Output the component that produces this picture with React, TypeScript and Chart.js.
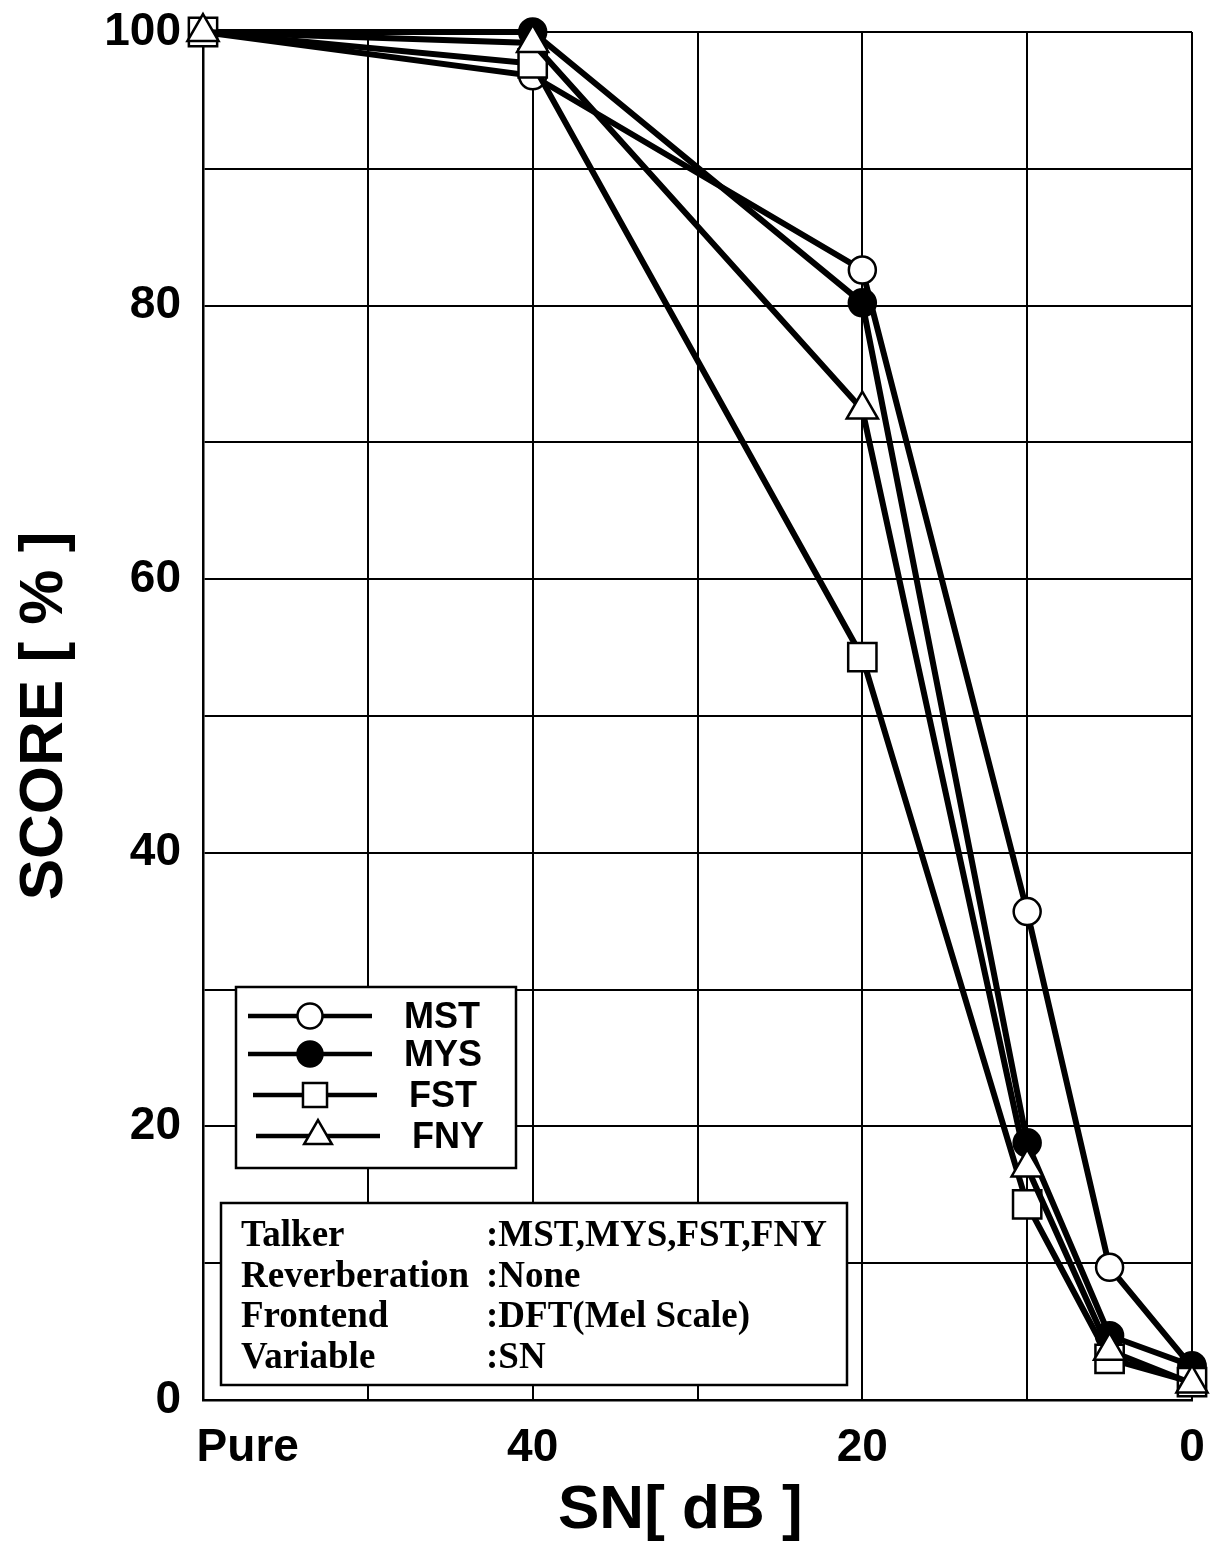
import React, { useEffect, useRef } from "react";
import { Chart, registerables } from "chart.js";

Chart.register(...registerables);

// x positions: "Pure" is placed at 60 on a reversed 0..60 dB scale
const snPositions = [60, 40, 20, 10, 5, 0];
const xTickValues = [60, 40, 20, 0];
const xTickTexts = ["       Pure", "40", "20", "0"];
const yTickValues = [0, 20, 40, 60, 80, 100];

const mstScores = [100, 96.8, 82.6, 35.7, 9.7, 2.4];
const mysScores = [100, 100, 80.2, 18.8, 4.7, 2.5];
const fstScores = [100, 97.7, 54.3, 14.3, 3.0, 1.3];
const fnyScores = [100, 99.2, 72.4, 17.0, 3.6, 1.2];

const seriesNames = ["MST", "MYS", "FST", "FNY"];
const seriesPointStyles = ["circle", "circle", "rect", "triangle"];
const seriesFills = ["#ffffff", "#000000", "#ffffff", "#ffffff"];
const seriesRadii = [13.5, 13.5, 20, 18];
const seriesOrder = [3, 2, 1, 0];

const infoKeys = ["Talker", "Reverberation", "Frontend", "Variable"];
const infoValues = [":MST,MYS,FST,FNY", ":None", ":DFT(Mel Scale)", ":SN"];

const SANS = "'Liberation Sans', Arial, Helvetica, sans-serif";
const SERIF = "'Liberation Serif', 'Times New Roman', serif";

function drawMarker(ctx: CanvasRenderingContext2D, style: string, x: number, y: number, r: number, fill: string) {
  ctx.save();
  ctx.beginPath();
  if (style === "circle") {
    ctx.arc(x, y, r, 0, Math.PI * 2);
  } else if (style === "rect") {
    const s = r / Math.SQRT2;
    ctx.rect(x - s, y - s, s * 2, s * 2);
  } else {
    ctx.moveTo(x, y - r);
    ctx.lineTo(x + r * Math.sin((2 * Math.PI) / 3), y - r * Math.cos((2 * Math.PI) / 3));
    ctx.lineTo(x + r * Math.sin((4 * Math.PI) / 3), y - r * Math.cos((4 * Math.PI) / 3));
    ctx.closePath();
  }
  ctx.fillStyle = fill;
  ctx.fill();
  ctx.lineWidth = 2.5;
  ctx.strokeStyle = "#000";
  ctx.stroke();
  ctx.restore();
}

const boxesPlugin = {
  id: "boxes",
  afterDatasetsDraw(chart: any) {
    const ctx: CanvasRenderingContext2D = chart.ctx;
    // legend box
    ctx.save();
    ctx.fillStyle = "#fff";
    ctx.fillRect(236, 987, 280, 181);
    ctx.lineWidth = 2.5;
    ctx.strokeStyle = "#000";
    ctx.strokeRect(236, 987, 280, 181);
    const rowsY = [1016, 1054, 1095, 1136];
    const shifts = [0, 0, 5, 8];
    seriesNames.forEach((name, i) => {
      const y = rowsY[i];
      const sx = shifts[i];
      ctx.beginPath();
      ctx.lineWidth = 4.5;
      ctx.moveTo(248 + sx, y);
      ctx.lineTo(372 + sx, y);
      ctx.stroke();
      const r = i === 2 ? 17 : i === 3 ? 16 : 12.5;
      drawMarker(ctx, seriesPointStyles[i], 310 + sx, y, r, seriesFills[i]);
      ctx.fillStyle = "#000";
      ctx.font = `bold 36px ${SANS}`;
      ctx.textAlign = "left";
      ctx.textBaseline = "middle";
      ctx.fillText(name, 404 + sx, y + 2);
    });
    // info box
    ctx.fillStyle = "#fff";
    ctx.fillRect(221, 1203, 626, 182);
    ctx.lineWidth = 2.5;
    ctx.strokeRect(221, 1203, 626, 182);
    ctx.fillStyle = "#000";
    ctx.font = `bold 37px ${SERIF}`;
    ctx.textBaseline = "alphabetic";
    infoKeys.forEach((k, i) => {
      const y = 1246 + i * 40.5;
      ctx.fillText(k, 241, y);
      ctx.fillText(infoValues[i], 486, y);
    });
    ctx.restore();
  },
};

export default function App() {
  const ref = useRef<HTMLCanvasElement | null>(null);
  useEffect(() => {
    if (!ref.current) return;
    const datasets = [mstScores, mysScores, fstScores, fnyScores].map((arr, i) => ({
      label: seriesNames[i],
      data: arr.map((v, j) => ({ x: snPositions[j], y: v })),
      order: seriesOrder[i],
      borderColor: "#000",
      borderWidth: 6,
      pointStyle: seriesPointStyles[i] as any,
      pointRadius: seriesRadii[i],
      pointBackgroundColor: seriesFills[i],
      pointBorderColor: "#000",
      pointBorderWidth: 2.5,
      tension: 0,
      clip: false as any,
      fill: false,
    }));
    const chart = new Chart(ref.current, {
      type: "line",
      data: { datasets },
      plugins: [boxesPlugin],
      options: {
        animation: false,
        responsive: false,
        devicePixelRatio: 1,
        layout: { padding: { top: 32, right: 28, left: 0, bottom: 0 } },
        plugins: { legend: { display: false }, tooltip: { enabled: false } },
        scales: {
          x: {
            type: "linear",
            reverse: true,
            min: 0,
            max: 60,
            afterFit: (s: any) => {
              s.height = 142;
            },
            afterBuildTicks: (s: any) => {
              s.ticks = [0, 10, 20, 30, 40, 50, 60].map((v) => ({ value: v }));
            },
            ticks: {
              autoSkip: false,
              maxRotation: 0,
              padding: 21,
              color: "#000",
              font: { family: SANS, size: 46, weight: "bold" },
              callback: (v: any) => {
                const idx = xTickValues.indexOf(Number(v));
                return idx >= 0 ? xTickTexts[idx] : "";
              },
            },
            grid: { color: "#000", lineWidth: 2, drawTicks: false },
            border: { color: "#000", width: 2.5 },
            title: {
              display: true,
              text: "SN[ dB ]  ",
              color: "#000",
              font: { family: SANS, size: 62, weight: "bold", lineHeight: 1 },
              padding: { top: 0, bottom: 0 },
            },
          },
          y: {
            type: "linear",
            min: 0,
            max: 100,
            afterFit: (s: any) => {
              s.width = 203;
            },
            afterBuildTicks: (s: any) => {
              s.ticks = [0, 10, 20, 30, 40, 50, 60, 70, 80, 90, 100].map((v) => ({ value: v }));
            },
            ticks: {
              padding: 22,
              color: "#000",
              font: { family: SANS, size: 46, weight: "bold", lineHeight: 0.2 },
              callback: (v: any) => (yTickValues.includes(Number(v)) ? String(v) : ""),
            },
            grid: { color: "#000", lineWidth: 2, drawTicks: false },
            border: { color: "#000", width: 2.5 },
            title: {
              display: true,
              text: "SCORE [ % ]",
              color: "#000",
              font: { family: SANS, size: 62, weight: "bold" },
              padding: { top: 8, bottom: 0 },
            },
          },
        },
      },
    });
    return () => chart.destroy();
  }, []);
  return (
    <div style={{ position: "absolute", left: 0, top: 0, width: 1220, height: 1542, background: "#fff" }}>
      <canvas ref={ref} width={1220} height={1542} style={{ display: "block" }} />
    </div>
  );
}
